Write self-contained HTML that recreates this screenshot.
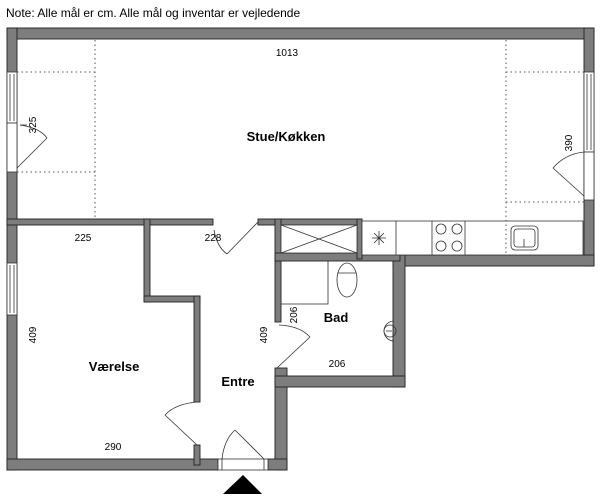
<!DOCTYPE html><html><head><style>body{margin:0;background:#fff}svg{display:block}text{font-family:"Liberation Sans",sans-serif;fill:#000}</style></head><body>
<svg width="600" height="500" viewBox="0 0 600 500">
<text x="6" y="17" font-size="12">Note: Alle mål er cm. Alle mål og inventar er vejledende</text>
<g fill="#7d7d7d" stroke="#222" stroke-width="0.9">
<rect x="7" y="28" width="587" height="11"/>
<rect x="7" y="28" width="10" height="442"/>
<rect x="584" y="28" width="10" height="238"/>
<rect x="7" y="219" width="206" height="6"/>
<rect x="258" y="219" width="104" height="6"/>
<rect x="393" y="255" width="201" height="11"/>
<rect x="393" y="255" width="12" height="132"/>
<rect x="275" y="219" width="6" height="103"/>
<rect x="275" y="368" width="12" height="102"/>
<rect x="275" y="376" width="130" height="11"/>
<rect x="275" y="253" width="125" height="8"/>
<rect x="357" y="219" width="5" height="40"/>
<rect x="7" y="459" width="211" height="11"/>
<rect x="268" y="459" width="19" height="11"/>
<rect x="144" y="219" width="6" height="83"/>
<rect x="144" y="296" width="56" height="6"/>
<rect x="194" y="296" width="6" height="106"/>
<rect x="194" y="445" width="6" height="20"/>
</g>
<g fill="#fff" stroke="#333" stroke-width="0.8">
<rect x="7" y="72" width="10" height="51"/><line x1="10" y1="74" x2="10" y2="121"/><line x1="14" y1="74" x2="14" y2="121"/>
<rect x="7" y="123" width="10" height="49"/>
<rect x="584" y="72" width="10" height="80"/><line x1="587" y1="74" x2="587" y2="150"/><line x1="591" y1="74" x2="591" y2="150"/>
<rect x="584" y="152" width="10" height="48"/>
<rect x="7" y="263" width="10" height="52"/><line x1="10" y1="265" x2="10" y2="313"/><line x1="14" y1="265" x2="14" y2="313"/>
<rect x="218" y="459" width="50" height="11"/><line x1="222" y1="459" x2="222" y2="470"/><line x1="264" y1="459" x2="264" y2="470"/>
<rect x="281" y="225" width="76" height="28"/>
<rect x="362" y="221" width="221" height="34"/>
</g>
<g stroke="#333" stroke-width="0.8" fill="none">
<line x1="281" y1="225" x2="357" y2="253"/><line x1="357" y1="225" x2="281" y2="253"/>
<line x1="396" y1="221" x2="396" y2="255"/><line x1="432" y1="221" x2="432" y2="255"/><line x1="465" y1="221" x2="465" y2="255"/>
<circle cx="441" cy="229" r="5"/><circle cx="457" cy="229" r="5"/><circle cx="441" cy="246" r="5"/><circle cx="457" cy="246" r="5"/>
<rect x="511" y="226" width="27" height="24" rx="4"/><rect x="514" y="229" width="21" height="18" rx="3"/><line x1="524" y1="239" x2="524" y2="247"/>
<path d="M372 238H386M379 231V245M374 233L384 243M384 233L374 243"/>
<rect x="281" y="261" width="47" height="43"/>
<ellipse cx="347" cy="280" rx="10" ry="17"/><line x1="338" y1="273" x2="356" y2="273"/>
<path d="M394 321A9 9 0 0 0 394 341"/><circle cx="390" cy="331" r="6"/><line x1="386" y1="331" x2="392" y2="331"/>
<path d="M17 168L47 138"/><path d="M47 138Q40 128 20 125"/>
<path d="M584 196L553 168"/><path d="M553 168Q565 154 584 152"/>
<path d="M258 222L227 254"/><path d="M227 254Q217 247 214 230"/>
<path d="M277 368L310 337"/><path d="M310 337Q300 326 279 325"/>
<path d="M197 445L165 415"/><path d="M165 415Q175 404 197 402"/>
<path d="M264 459L235 430"/><path d="M235 430Q224 440 222 459"/>
<line x1="20" y1="125" x2="27" y2="125"/>
</g>
<g stroke="#555" stroke-width="1" stroke-dasharray="1.5,3" fill="none">
<line x1="95" y1="40" x2="95" y2="219"/><line x1="17" y1="72" x2="95" y2="72"/><line x1="17" y1="172" x2="95" y2="172"/>
<line x1="506" y1="40" x2="506" y2="255"/><line x1="506" y1="72" x2="584" y2="72"/><line x1="506" y1="202" x2="584" y2="202"/>
</g>
<polygon points="223,494 262,494 243,475" fill="#000"/>
<g font-size="10" text-anchor="middle">
<text x="287" y="56">1013</text>
<text x="83" y="241">225</text>
<text x="213" y="241">228</text>
<text x="113" y="450">290</text>
<text x="337" y="367">206</text>
<text transform="translate(36,125) rotate(-90)">325</text>
<text transform="translate(572,143) rotate(-90)">390</text>
<text transform="translate(36,335) rotate(-90)">409</text>
<text transform="translate(267,335) rotate(-90)">409</text>
<text transform="translate(297,315) rotate(-90)">206</text>
</g>
<g font-size="13" font-weight="bold" text-anchor="middle">
<text x="286" y="141">Stue/Køkken</text>
<text x="114" y="371">Værelse</text>
<text x="238" y="386">Entre</text>
<text x="336" y="322">Bad</text>
</g>
</svg></body></html>
